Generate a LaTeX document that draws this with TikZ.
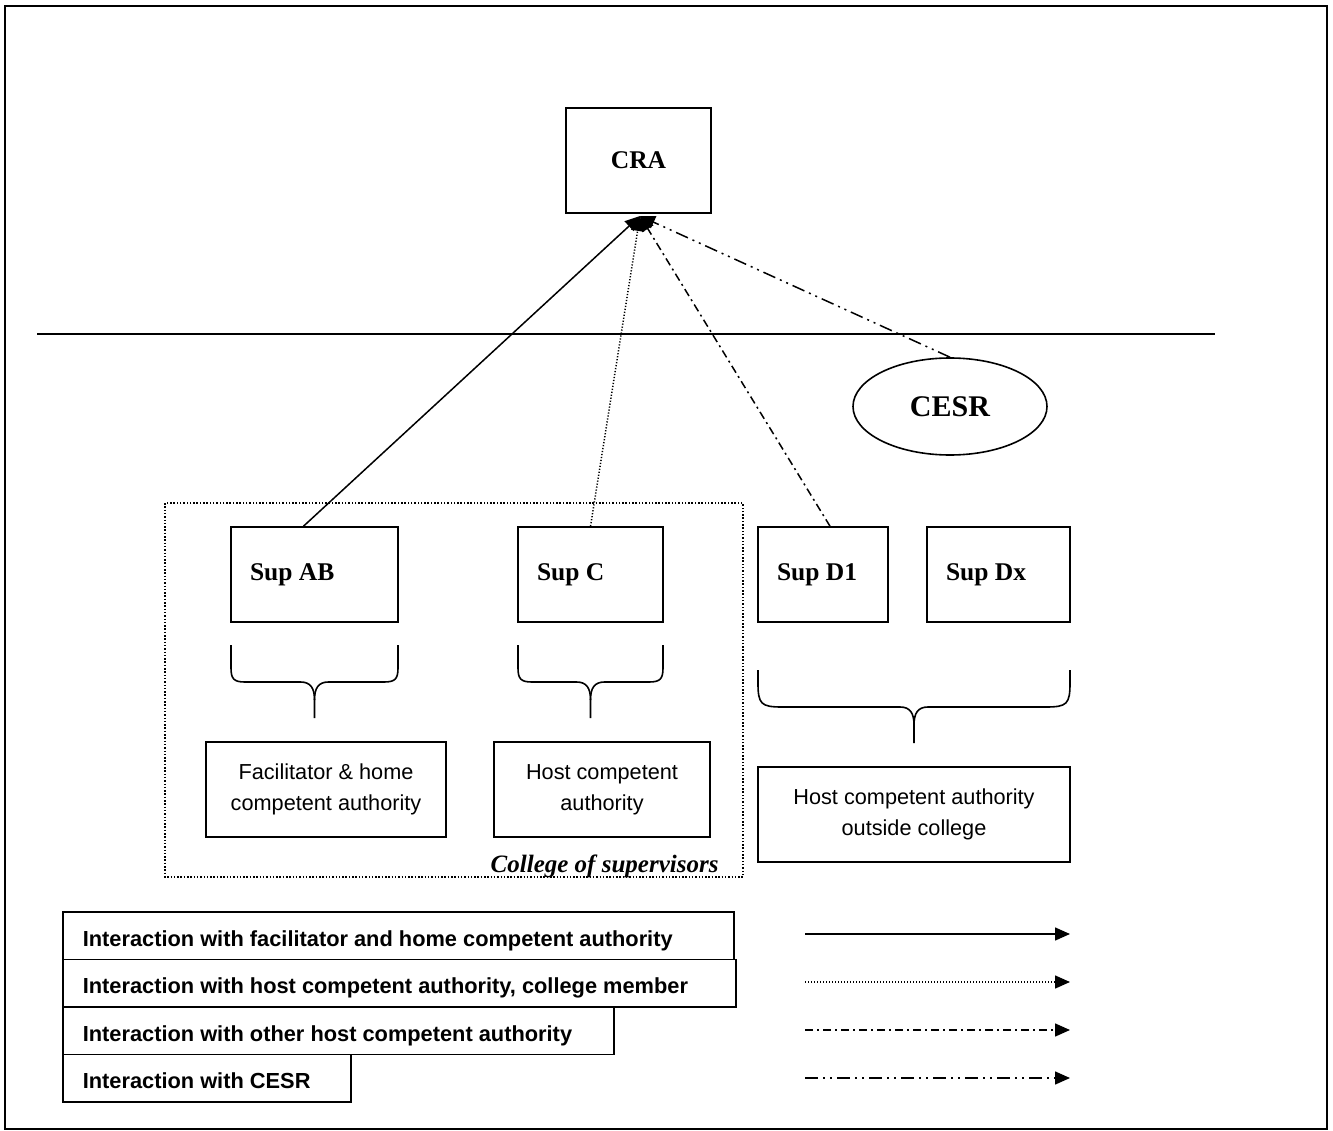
\documentclass[tikz,border=0pt]{standalone}
\usepackage{fontspec}
\setmainfont{Liberation Serif}
\setsansfont{Liberation Sans}
\usetikzlibrary{arrows.meta,shapes.geometric}
\newcommand\groupbrace[6]{%
  \pgfmathsetmacro\bracemid{(#1+#2)/2}
  \draw[bracket] (\bracemid,#5) -- (\bracemid,#4+18)
    .. controls (\bracemid,#4+6) and (\bracemid-4,#4) .. (\bracemid-14,#4)
    -- (#1+#6,#4) .. controls (#1+3,#4) and (#1,#4-3) .. (#1,#4-#6) -- (#1,#3);
  \draw[bracket] (\bracemid,#4+18)
    .. controls (\bracemid,#4+6) and (\bracemid+4,#4) .. (\bracemid+14,#4)
    -- (#2-#6,#4) .. controls (#2-3,#4) and (#2,#4-3) .. (#2,#4-#6) -- (#2,#3);
}
\tikzset{
  box/.style={draw,line width=1.6pt},
  crabox/.style={box,minimum width=145,minimum height=105,font=\fontsize{25.5}{30}\selectfont\bfseries},
  supbox/.style={box,minimum height=95,inner xsep=19,text width=#1,align=flush left,font=\fontsize{25.5}{30}\selectfont\bfseries},
  infobox/.style={box,minimum height=95,minimum width=#1,align=center,font=\sffamily\fontsize{21.7}{31}\selectfont},
  legendbox/.style={box,minimum height=47.5,anchor=north west,inner xsep=20,text width=#1,text height=21,text depth=0,align=flush left,font=\sffamily\bfseries\fontsize{21.8}{26}\selectfont},
  bracket/.style={line width=1.6pt},
  link/.style={line width=1.5pt,-{Triangle[length=15pt,width=13pt]}},
  solidlink/.style={link},
  dottedlink/.style={link,dash pattern=on 1.2pt off 1.8pt},
  dashdotlink/.style={link,dash pattern=on 8pt off 4pt on 2pt off 4pt},
  dashdotdotlink/.style={link,dash pattern=on 13pt off 5pt on 2pt off 5pt on 2pt off 5pt}
}
\begin{document}
\begin{tikzpicture}[x=1pt,y=-1pt]
  \useasboundingbox (0,0) rectangle (1333,1131);
  \draw[line width=2.5pt] (5,6) rectangle (1327,1129);
  \draw[line width=1.5pt] (37,334) -- (1215,334);
  \draw[line width=1.3pt,dash pattern=on 1.5pt off 1.8pt] (165,503) rectangle (743,877);

  \node[crabox] (cra) at (638.5,160.5) {CRA};
  \coordinate (cratip) at (640,216);
  \node[box,ellipse,minimum width=194,minimum height=97,font=\fontsize{30}{34}\selectfont\bfseries] (cesr) at (950,406.5) {CESR};

  \node[supbox=129] (ab) at (314.5,574.5) {Sup AB};
  \node[supbox=107] (sc) at (590.5,574.5) {Sup C};
  \node[supbox=92] (done) at (823,574.5) {Sup D1};
  \node[supbox=105] (dx) at (998.5,574.5) {Sup Dx};

  \groupbrace{231}{398}{645}{682}{718}{14}
  \groupbrace{518}{663}{645}{682}{718}{14}
  \groupbrace{758}{1070}{670}{707}{743}{24}

  \node[infobox=240] (home) at (326,789.5) {Facilitator \& home\\competent authority};
  \node[infobox=216] (host) at (602,789.5) {Host competent\\authority};
  \node[infobox=312] (outside) at (914,814.5) {Host competent authority\\outside college};
  \node[anchor=east,font=\fontsize{25}{30}\selectfont\bfseries\itshape] (college) at (722,866) {College of supervisors};

  \draw[solidlink] ([xshift=-11pt]ab.north) -- (cratip);
  \draw[dottedlink] (sc.north) -- (cratip);
  \draw[dashdotlink] ([xshift=7pt]done.north) -- (cratip);
  \draw[dashdotdotlink] (cesr.north) -- (cratip);

  \node[legendbox=631] (lgone) at (62,911) {Interaction with facilitator and home competent authority};
  \node[legendbox=633] (lgtwo) at (62,958.5) {Interaction with host competent authority, college member};
  \node[legendbox=511] (lgthree) at (62,1006) {Interaction with other host competent authority};
  \node[legendbox=248] (lgfour) at (62,1053.5) {Interaction with CESR};

  \coordinate (aone) at (805,934);   \coordinate (bone) at (1070,934);
  \coordinate (atwo) at (805,982);   \coordinate (btwo) at (1070,982);
  \coordinate (athree) at (805,1030); \coordinate (bthree) at (1070,1030);
  \coordinate (afour) at (805,1078);  \coordinate (bfour) at (1070,1078);
  \draw[solidlink] (aone) -- (bone);
  \draw[dottedlink] (atwo) -- (btwo);
  \draw[dashdotlink] (athree) -- (bthree);
  \draw[dashdotdotlink] (afour) -- (bfour);
\end{tikzpicture}
\end{document}
